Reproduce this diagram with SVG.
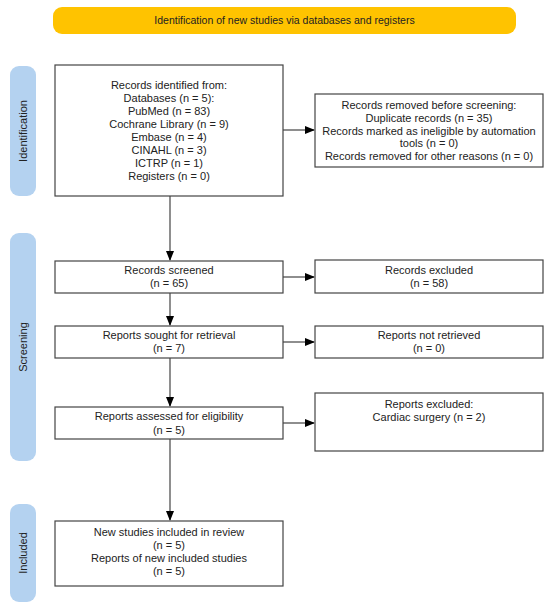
<svg xmlns="http://www.w3.org/2000/svg" width="550" height="609" viewBox="0 0 550 609">
<style>
text{font-family:"Liberation Sans",Arial,sans-serif;font-size:11px;fill:#222;text-anchor:middle}
.banner{font-size:10.5px}
.box{fill:#fff;stroke:#444;stroke-width:1.2}
.side{fill:#b4d2f0}
.line{stroke:#444;stroke-width:1.2;fill:none}
</style>
<defs>
<marker id="ah" markerWidth="10" markerHeight="8" refX="9" refY="4" orient="auto" markerUnits="userSpaceOnUse">
<path d="M0,0 L10,4 L0,8 Z" fill="#000"/>
</marker>
</defs>
<rect width="550" height="609" fill="#fff"/>
<g id="banner">
<rect x="53" y="7" width="463" height="27" rx="9" fill="#ffc300"/>
<text class="banner" x="284.5" y="24">Identification of new studies via databases and registers</text>
</g>
<g id="side-identification">
<rect class="side" x="10" y="66" width="26" height="130" rx="9"/>
<text transform="translate(27,131) rotate(-90)">Identification</text>
</g>
<g id="side-screening">
<rect class="side" x="10" y="233" width="26" height="228" rx="9"/>
<text transform="translate(27,347) rotate(-90)">Screening</text>
</g>
<g id="side-included">
<rect class="side" x="10" y="504" width="26" height="98" rx="9"/>
<text transform="translate(27,553) rotate(-90)">Included</text>
</g>
<g id="connectors">
<path class="line" d="M170,196 V260" marker-end="url(#ah)"/>
<path class="line" d="M170,293 V325" marker-end="url(#ah)"/>
<path class="line" d="M170,358 V406" marker-end="url(#ah)"/>
<path class="line" d="M170,439 V520" marker-end="url(#ah)"/>
<path class="line" d="M283,130 H314" marker-end="url(#ah)"/>
<path class="line" d="M283,277 H314" marker-end="url(#ah)"/>
<path class="line" d="M283,342 H314" marker-end="url(#ah)"/>
<path class="line" d="M283,423 H314" marker-end="url(#ah)"/>
</g>
<g id="identified">
<rect class="box" x="55" y="65" width="228" height="131"/>
<text x="169" y="89">Records identified from:</text>
<text x="169" y="102">Databases (n = 5):</text>
<text x="169" y="115">PubMed (n = 83)</text>
<text x="169" y="128">Cochrane Library (n = 9)</text>
<text x="169" y="141">Embase (n = 4)</text>
<text x="169" y="154">CINAHL (n = 3)</text>
<text x="169" y="167">ICTRP (n = 1)</text>
<text x="169" y="180">Registers (n = 0)</text>
</g>
<g id="removed">
<rect class="box" x="315" y="94" width="228" height="73"/>
<text x="429" y="109">Records removed before screening:</text>
<text x="429" y="122">Duplicate records (n = 35)</text>
<text x="429" y="135">Records marked as ineligible by automation</text>
<text x="429" y="147">tools (n = 0)</text>
<text x="429" y="160">Records removed for other reasons (n = 0)</text>
</g>
<g id="screened">
<rect class="box" x="55" y="261" width="228" height="32"/>
<text x="169" y="274">Records screened</text>
<text x="169" y="287">(n = 65)</text>
</g>
<g id="excluded">
<rect class="box" x="315" y="260" width="228" height="33"/>
<text x="429" y="274">Records excluded</text>
<text x="429" y="287">(n = 58)</text>
</g>
<g id="sought">
<rect class="box" x="55" y="326" width="228" height="32"/>
<text x="169" y="339">Reports sought for retrieval</text>
<text x="169" y="352">(n = 7)</text>
</g>
<g id="not-retrieved">
<rect class="box" x="315" y="326" width="228" height="32"/>
<text x="429" y="339">Reports not retrieved</text>
<text x="429" y="352">(n = 0)</text>
</g>
<g id="assessed">
<rect class="box" x="55" y="407" width="228" height="32"/>
<text x="169" y="420">Reports assessed for eligibility</text>
<text x="169" y="434">(n = 5)</text>
</g>
<g id="reports-excluded">
<rect class="box" x="315" y="393" width="228" height="58"/>
<text x="429" y="408">Reports excluded:</text>
<text x="429" y="421">Cardiac surgery (n = 2)</text>
</g>
<g id="included">
<rect class="box" x="55" y="521" width="228" height="65"/>
<text x="169" y="536">New studies included in review</text>
<text x="169" y="549">(n = 5)</text>
<text x="169" y="562">Reports of new included studies</text>
<text x="169" y="575">(n = 5)</text>
</g>
</svg>
